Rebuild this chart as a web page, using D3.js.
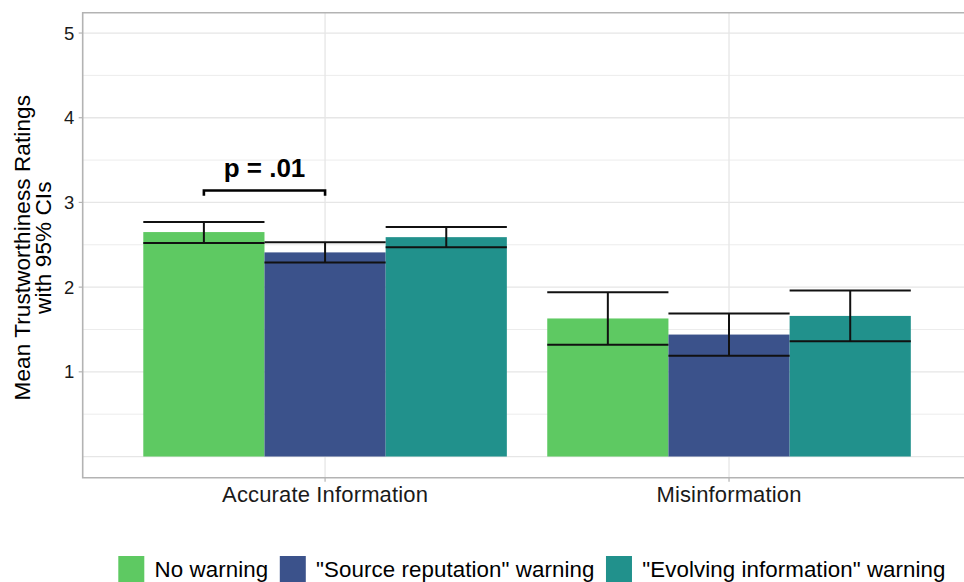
<!DOCTYPE html>
<html>
<head>
<meta charset="utf-8">
<script src="https://cdn.jsdelivr.net/npm/d3@7"></script>
<style>
  html, body { margin: 0; padding: 0; background: #fff; }
  svg { display: block; font-family: "Liberation Sans", Arial, Helvetica, sans-serif; }
</style>
</head>
<body>
<svg id="chart" width="964" height="582"></svg>
<script>
// Information type on the x axis
const categories = ["Accurate Information", "Misinformation"];
// Warning conditions (fill groups)
const series = ["No warning", "\"Source reputation\" warning", "\"Evolving information\" warning"];
const seriesColors = ["#5ec962", "#3b528b", "#21918c"];

// Mean trustworthiness ratings per condition, one entry per category
const meanNoWarning = [2.65, 1.63];
const meanSource    = [2.41, 1.44];
const meanEvolving  = [2.59, 1.66];
// 95% confidence interval bounds
const lowNoWarning  = [2.52, 1.32];
const highNoWarning = [2.77, 1.94];
const lowSource     = [2.29, 1.19];
const highSource    = [2.53, 1.69];
const lowEvolving   = [2.47, 1.36];
const highEvolving  = [2.71, 1.96];

const yTicks = [1, 2, 3, 4, 5];
const yMajorGrid = [0, 1, 2, 3, 4, 5];
const yMinorGrid = [0.5, 1.5, 2.5, 3.5, 4.5];

// Significance annotation between the first two conditions of the first category
const sigLabel = "p = .01";
const sigCategory = "Accurate Information";
const sigPair = [series[0], series[1]];
const sigBracketY = 3.14;
const sigTickY = 3.08;
const sigLabelY = 3.30;

const rows = [];
categories.forEach((c, i) => {
  rows.push({cat: c, s: series[0], mean: meanNoWarning[i], lo: lowNoWarning[i], hi: highNoWarning[i]});
  rows.push({cat: c, s: series[1], mean: meanSource[i], lo: lowSource[i], hi: highSource[i]});
  rows.push({cat: c, s: series[2], mean: meanEvolving[i], lo: lowEvolving[i], hi: highEvolving[i]});
});

const svg = d3.select("#chart");
const panel = {left: 82.7, right: 971.4, top: 12.7, bottom: 477.7};

const x = d3.scaleBand().domain(categories)
  .range([panel.left, panel.right]).paddingInner(0.1).paddingOuter(0.15);
const xs = d3.scaleBand().domain(series).range([0, x.bandwidth()]);
const y = d3.scaleLinear().domain([-0.25, 5.24]).range([panel.bottom, panel.top]);
const color = d3.scaleOrdinal().domain(series).range(seriesColors);

// grid
const grid = svg.append("g");
grid.selectAll(".minor").data(yMinorGrid).join("line")
  .attr("x1", panel.left).attr("x2", panel.right)
  .attr("y1", d => y(d)).attr("y2", d => y(d))
  .attr("stroke", "#ececec").attr("stroke-width", 1);
grid.selectAll(".major").data(yMajorGrid).join("line")
  .attr("x1", panel.left).attr("x2", panel.right)
  .attr("y1", d => y(d)).attr("y2", d => y(d))
  .attr("stroke", "#e6e6e6").attr("stroke-width", 1.3);
grid.selectAll(".vmajor").data(categories).join("line")
  .attr("x1", d => x(d) + x.bandwidth() / 2).attr("x2", d => x(d) + x.bandwidth() / 2)
  .attr("y1", panel.top).attr("y2", panel.bottom)
  .attr("stroke", "#e6e6e6").attr("stroke-width", 1.3);

// bars
const barX = d => x(d.cat) + xs(d.s);
svg.append("g").selectAll("rect").data(rows).join("rect")
  .attr("x", barX)
  .attr("width", xs.bandwidth())
  .attr("y", d => y(d.mean))
  .attr("height", d => y(0) - y(d.mean))
  .attr("fill", d => color(d.s));

// error bars
const eb = svg.append("g").attr("stroke", "#111").attr("stroke-width", 2).attr("fill", "none");
rows.forEach(d => {
  const x0 = barX(d), x1 = x0 + xs.bandwidth(), xm = x0 + xs.bandwidth() / 2;
  eb.append("line").attr("x1", x0).attr("x2", x1).attr("y1", y(d.hi)).attr("y2", y(d.hi));
  eb.append("line").attr("x1", x0).attr("x2", x1).attr("y1", y(d.lo)).attr("y2", y(d.lo));
  eb.append("line").attr("x1", xm).attr("x2", xm).attr("y1", y(d.hi)).attr("y2", y(d.lo));
});

// significance bracket
const bx0 = x(sigCategory) + xs(sigPair[0]) + xs.bandwidth() / 2;
const bx1 = x(sigCategory) + xs(sigPair[1]) + xs.bandwidth() / 2;
svg.append("path")
  .attr("d", `M${bx0},${y(sigTickY)}V${y(sigBracketY)}H${bx1}V${y(sigTickY)}`)
  .attr("fill", "none").attr("stroke", "#000").attr("stroke-width", 2.6);
svg.append("text").attr("x", (bx0 + bx1) / 2).attr("y", y(sigLabelY))
  .attr("text-anchor", "middle").attr("font-size", 26).attr("font-weight", "bold")
  .attr("fill", "#000").text(sigLabel);

// panel border (left, top, bottom)
svg.append("path")
  .attr("d", `M${panel.right},${panel.top}H${panel.left}V${panel.bottom}H${panel.right}`)
  .attr("fill", "none").attr("stroke", "#b3b3b3").attr("stroke-width", 1.6);

// y axis ticks and labels
const yAxis = svg.append("g");
yAxis.selectAll("line").data(yTicks).join("line")
  .attr("x1", panel.left - 4).attr("x2", panel.left)
  .attr("y1", d => y(d)).attr("y2", d => y(d))
  .attr("stroke", "#b3b3b3").attr("stroke-width", 1.2);
yAxis.selectAll("text").data(yTicks).join("text")
  .attr("x", panel.left - 8.5).attr("y", d => y(d)).attr("dy", "0.35em")
  .attr("text-anchor", "end").attr("font-size", 18.5).attr("fill", "#1a1a1a")
  .text(d => d3.format("d")(d));

// x axis ticks and labels
const xAxis = svg.append("g");
xAxis.selectAll("line").data(categories).join("line")
  .attr("x1", d => x(d) + x.bandwidth() / 2).attr("x2", d => x(d) + x.bandwidth() / 2)
  .attr("y1", panel.bottom).attr("y2", panel.bottom + 4)
  .attr("stroke", "#b3b3b3").attr("stroke-width", 1.2);
xAxis.selectAll("text").data(categories).join("text")
  .attr("x", d => x(d) + x.bandwidth() / 2).attr("y", 502.3)
  .attr("text-anchor", "middle").attr("font-size", 22).attr("fill", "#1a1a1a")
  .attr("letter-spacing", 0.15)
  .text(d => d);

// y axis title
const yTitle = svg.append("text")
  .attr("transform", `translate(0,${(panel.top + panel.bottom) / 2 + 2.5}) rotate(-90)`)
  .attr("text-anchor", "middle").attr("font-size", 22.5).attr("fill", "#000")
  .attr("letter-spacing", 0.1);
yTitle.append("tspan").attr("x", 0).attr("y", 30).text("Mean Trustworthiness Ratings");
yTitle.append("tspan").attr("x", 0).attr("y", 51).text("with 95% CIs");

// legend
const legend = svg.append("g");
const keySize = 26, keyGap = 10.3, itemGap = 11.6;
let lx = 118.3;
series.forEach(s => {
  legend.append("rect").attr("x", lx).attr("y", 556).attr("width", keySize).attr("height", keySize)
    .attr("fill", color(s));
  const t = legend.append("text").attr("x", lx + keySize + keyGap).attr("y", 576.8)
    .attr("font-size", 22.3).attr("letter-spacing", 0.08).attr("fill", "#000").text(s);
  lx += keySize + keyGap + t.node().getComputedTextLength() + itemGap;
});
</script>
</body>
</html>
